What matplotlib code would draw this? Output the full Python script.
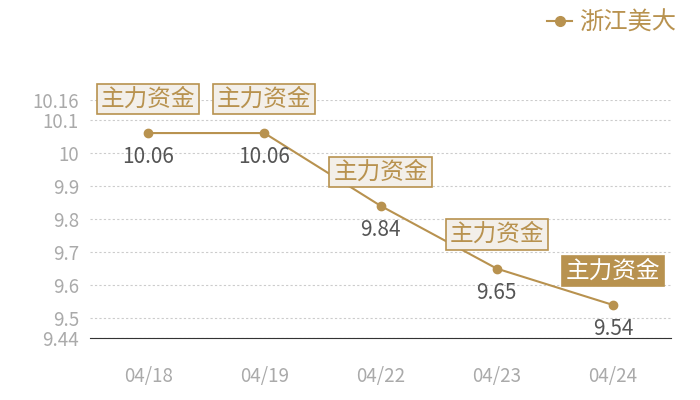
import numpy as np
import matplotlib.pyplot as plt
from matplotlib.lines import Line2D

plt.rcParams['font.family'] = ['Noto Sans CJK SC', 'DejaVu Sans']

dates = ['04/18', '04/19', '04/22', '04/23', '04/24']
prices = [10.06, 10.06, 9.84, 9.65, 9.54]
yticks = [9.44, 9.5, 9.6, 9.7, 9.8, 9.9, 10, 10.1, 10.16]
ytick_labels = ['9.44', '9.5', '9.6', '9.7', '9.8', '9.9', '10', '10.1', '10.16']
tag = '主力资金'
series_name = '浙江美大'

gold = '#b8924f'

fig = plt.figure(figsize=(7, 4), dpi=100)
ax = fig.add_axes([0.1286, 0.155, 0.83, 0.595])

x = np.arange(len(dates))
ax.plot(x, prices, color=gold, lw=1.5, marker='o', ms=6, zorder=3)

ax.set_xlim(-0.5, len(dates) - 0.5)
ax.set_ylim(9.44, 10.16)
ax.set_yticks(yticks)
ax.set_yticklabels(ytick_labels)
ax.set_xticks(x)
ax.set_xticklabels(dates)
ax.tick_params(axis='both', length=0, colors='#aaaaaa', labelsize=13.5)
ax.tick_params(axis='x', pad=20)
ax.tick_params(axis='y', pad=8)
ax.grid(axis='y', color='#cccccc', ls=(0, (2, 2)), lw=0.8)
for s in ['top', 'right', 'left']:
    ax.spines[s].set_visible(False)
ax.spines['bottom'].set_color('#333333')

for i, p in enumerate(prices):
    ax.annotate(f'{p:.2f}', (i, p), xytext=(0, -24), textcoords='offset pixels',
                ha='center', va='center', fontsize=15, color='#555555')
    last = i == len(prices) - 1
    ax.annotate(tag, (i, p), xytext=(0, 34), textcoords='offset pixels',
                ha='center', va='center', fontsize=17,
                color='white' if last else gold,
                bbox=dict(boxstyle='square,pad=0.16',
                          fc=gold if last else '#f3efe9',
                          ec=gold, lw=1.2))

handle = Line2D([], [], color=gold, marker='o', ms=7, lw=1.5)
fig.legend([handle], [series_name], loc='upper right', bbox_to_anchor=(0.997, 1.03),
           frameon=False, prop={'size': 17.5}, labelcolor=gold,
           handlelength=1.0, handletextpad=0.3)

fig.savefig('out.png', dpi=100)
